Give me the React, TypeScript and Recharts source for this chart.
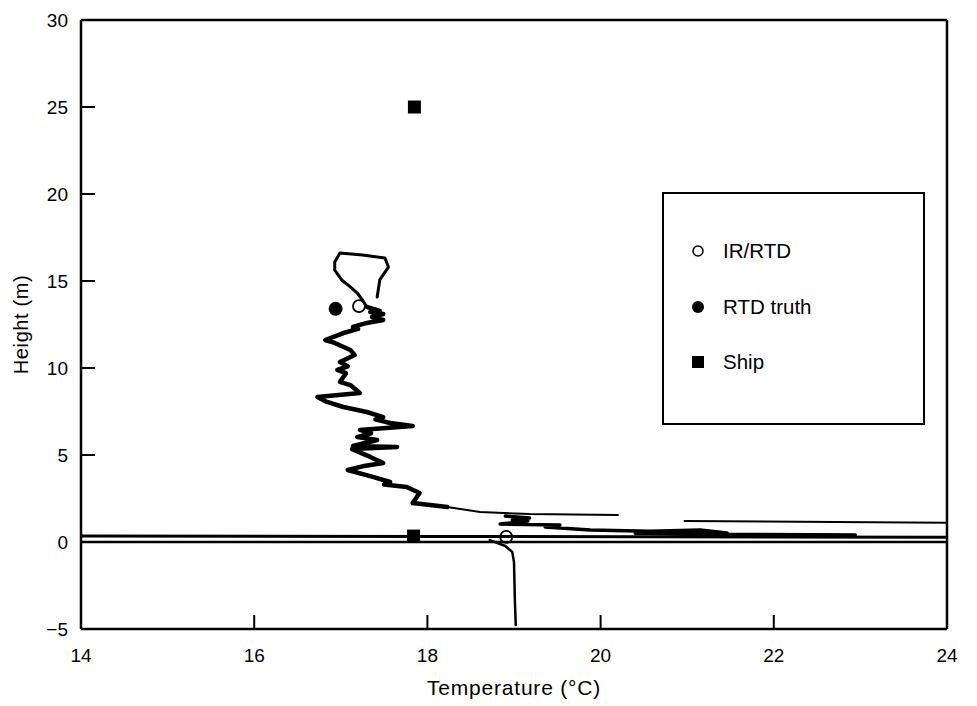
import React from 'react';
import { ScatterChart, Scatter, XAxis, YAxis, ReferenceLine, Legend } from 'recharts';

type Pt = { t: number; h: number };
const toPts = (a: number[][]): Pt[] => a.map(([t, h]) => ({ t, h }));

const xTicks = [14, 16, 18, 20, 22, 24];
const yTicks = [-5, 0, 5, 10, 15, 20, 25, 30];

// Temperature profile (°C, m)
const topLoop = [
  [17.42, 14.08], [17.45, 15.06], [17.55, 15.8], [17.51, 16.32], [17.25, 16.49], [16.99, 16.61],
  [16.93, 16.09], [16.93, 15.63], [17.01, 15.06], [17.11, 14.66], [17.19, 14.31], [17.25, 13.91],
  [17.3, 13.51],
];
const jaggedProfile = [
  [17.3, 13.51], [17.45, 13.28], [17.34, 13.22], [17.49, 13.1], [17.36, 12.93], [17.49, 12.76],
  [17.3, 12.59], [17.14, 12.36], [17.2, 12.25], [17.03, 12.01], [16.91, 11.78], [16.82, 11.61], [16.93, 11.44],
  [17.11, 11.03], [17.16, 10.75], [16.99, 10.34], [17.08, 10.1], [16.96, 9.89], [17.06, 9.7], [17.03, 9.48], [16.99, 9.2],
  [17.11, 9.02], [17.22, 8.56], [16.73, 8.33], [16.84, 8.05], [17.03, 7.76], [17.3, 7.47],
  [17.49, 7.18], [17.4, 7.05], [17.57, 6.84], [17.83, 6.67], [17.22, 6.44], [17.35, 6.25], [17.19, 6.03], [17.42, 5.86],
  [17.14, 5.52], [17.65, 5.46], [17.13, 5.34], [17.34, 4.89], [17.49, 4.54], [17.25, 4.35], [17.08, 4.14],
  [17.37, 3.74], [17.57, 3.45], [17.5, 3.3], [17.76, 3.16], [17.91, 2.82], [17.83, 2.24], [18.03, 2.13],
  [18.23, 2.01],
];
const profileTail = [[18.23, 2.01], [18.61, 1.72], [19.18, 1.61], [20.2, 1.55]];
const nearSurface = [
  [18.9, 1.49], [19.18, 1.38], [18.98, 1.26], [19.16, 1.21], [18.84, 1.03], [19.53, 0.98],
  [19.36, 0.86], [19.88, 0.69], [20.57, 0.62], [21.15, 0.69], [21.46, 0.52], [20.4, 0.5],
  [21.0, 0.45], [22.94, 0.4],
];
const rightStreak = [[20.97, 1.21], [24.0, 1.1]];
const surfaceUpper = [[14.0, 0.34], [18.0, 0.32], [24.0, 0.28]];
const surfaceLower = [[14.0, 0.0], [24.0, 0.0]];
const belowSurface = [
  [18.72, 0.11], [18.9, -0.23], [18.98, -0.57], [19.0, -1.15], [19.01, -3.33], [19.02, -4.77],
];

// Point measurements
const irRtd = [[17.21, 13.56], [18.91, 0.29]];
const rtdTruth = [[16.94, 13.4]];
const ship = [[17.85, 25.0], [17.84, 0.34]];

const legendItems = ['IR/RTD', 'RTD truth', 'Ship'];

const FONT = '"Liberation Sans", Arial, Helvetica, sans-serif';

const fmt = (v: number) => String(v).replace('-', '\u2212');

const YTick = (props: any) => {
  const { x, y, payload } = props;
  return (
    <g>
      <line x1={x} y1={y} x2={x + 14} y2={y} stroke="#000" strokeWidth={2} />
      <text x={x - 13} y={y} textAnchor="end" dominantBaseline="central" fontSize={19} fill="#000" fontFamily={FONT}>
        {fmt(payload.value)}
      </text>
    </g>
  );
};

const XTick = (props: any) => {
  const { x, y, payload } = props;
  return (
    <g>
      <line x1={x} y1={y} x2={x} y2={y - 14} stroke="#000" strokeWidth={2} />
      <text x={x} y={y + 26} textAnchor="middle" dominantBaseline="central" fontSize={19} fill="#000" fontFamily={FONT}>
        {payload.value}
      </text>
    </g>
  );
};

const NoDot = () => <g />;
const OpenCircle = (p: any) => <circle cx={p.cx} cy={p.cy} r={6} fill="none" stroke="#000" strokeWidth={1.8} />;
const FilledCircle = (p: any) => <circle cx={p.cx} cy={p.cy} r={7} fill="#000" />;
const FilledSquare = (p: any) => <rect x={p.cx - 6.5} y={p.cy - 6.5} width={13} height={13} fill="#000" />;

const LegendBox = () => {
  const symbols = [
    <svg width={16} height={16} key="a"><circle cx={8} cy={8} r={5} fill="none" stroke="#000" strokeWidth={1.5} /></svg>,
    <svg width={16} height={16} key="b"><circle cx={8} cy={8} r={6} fill="#000" /></svg>,
    <svg width={16} height={16} key="c"><rect x={2} y={2} width={12} height={12} fill="#000" /></svg>,
  ];
  return (
    <div
      style={{
        width: 263,
        height: 233,
        boxSizing: 'border-box',
        border: '2px solid #000',
        background: '#fff',
        fontFamily: FONT,
        fontSize: 20.5,
        color: '#000',
        position: 'relative',
      }}
    >
      {legendItems.map((label, i) => (
        <div
          key={label}
          style={{ position: 'absolute', left: 26, top: 57 + i * 55.5 - 12, height: 24, display: 'flex', alignItems: 'center' }}
        >
          {symbols[i]}
          <span style={{ marginLeft: 17 }}>{label}</span>
        </div>
      ))}
    </div>
  );
};

const line = (w: number) => ({ stroke: '#000', strokeWidth: w, strokeLinejoin: 'round' as const, strokeLinecap: 'round' as const, fill: 'none' });

export default function App() {
  return (
    <div style={{ fontFamily: FONT }}>
      <ScatterChart width={969} height={698} margin={{ top: 12, right: 30, bottom: 7, left: 0 }} style={{ fontFamily: FONT }}>
        <XAxis
          type="number"
          dataKey="t"
          domain={[14, 24]}
          ticks={xTicks}
          allowDataOverflow
          height={70}
          tickSize={0}
          tickMargin={0}
          tickLine={false}
          tick={<XTick />}
          axisLine={{ stroke: '#000', strokeWidth: 2.5 }}
          label={{ value: 'Temperature (°C)', position: 'insideBottom', offset: 4, fill: '#000', fontSize: 21, fontFamily: FONT, letterSpacing: 0.8 }}
        />
        <YAxis
          type="number"
          dataKey="h"
          domain={[-5, 30]}
          ticks={yTicks}
          allowDataOverflow
          width={73}
          tickSize={0}
          tickMargin={0}
          tickLine={false}
          tick={<YTick />}
          axisLine={{ stroke: '#000', strokeWidth: 2.5 }}
          label={{ value: 'Height (m)', angle: -90, position: 'insideLeft', offset: 13, fill: '#000', fontSize: 20, fontFamily: FONT, letterSpacing: 0.6, style: { textAnchor: 'middle' } }}
        />
        <ReferenceLine y={30} stroke="#000" strokeWidth={2.5} />
        <ReferenceLine x={24} stroke="#000" strokeWidth={2.5} />

        <Scatter data={toPts(surfaceLower)} line={line(2.5)} shape={NoDot} isAnimationActive={false} legendType="none" />
        <Scatter data={toPts(surfaceUpper)} line={line(3)} shape={NoDot} isAnimationActive={false} legendType="none" />
        <Scatter data={toPts(rightStreak)} line={line(2)} shape={NoDot} isAnimationActive={false} legendType="none" />
        <Scatter data={toPts(nearSurface)} line={line(3.5)} shape={NoDot} isAnimationActive={false} legendType="none" />
        <Scatter data={toPts(profileTail)} line={line(2)} shape={NoDot} isAnimationActive={false} legendType="none" />
        <Scatter data={toPts(topLoop)} line={line(3)} shape={NoDot} isAnimationActive={false} legendType="none" />
        <Scatter data={toPts(jaggedProfile)} line={line(4.5)} shape={NoDot} isAnimationActive={false} legendType="none" />
        <Scatter data={toPts(belowSurface)} line={line(2.5)} shape={NoDot} isAnimationActive={false} legendType="none" />

        <Scatter name="IR/RTD" data={toPts(irRtd)} shape={OpenCircle} isAnimationActive={false} />
        <Scatter name="RTD truth" data={toPts(rtdTruth)} shape={FilledCircle} isAnimationActive={false} />
        <Scatter name="Ship" data={toPts(ship)} shape={FilledSquare} isAnimationActive={false} />

        <Legend
          layout="vertical"
          align="center"
          verticalAlign="middle"
          content={() => <LegendBox />}
          wrapperStyle={{ position: 'absolute', left: 654, top: 184, width: 263, height: 233 }}
        />
      </ScatterChart>
    </div>
  );
}
